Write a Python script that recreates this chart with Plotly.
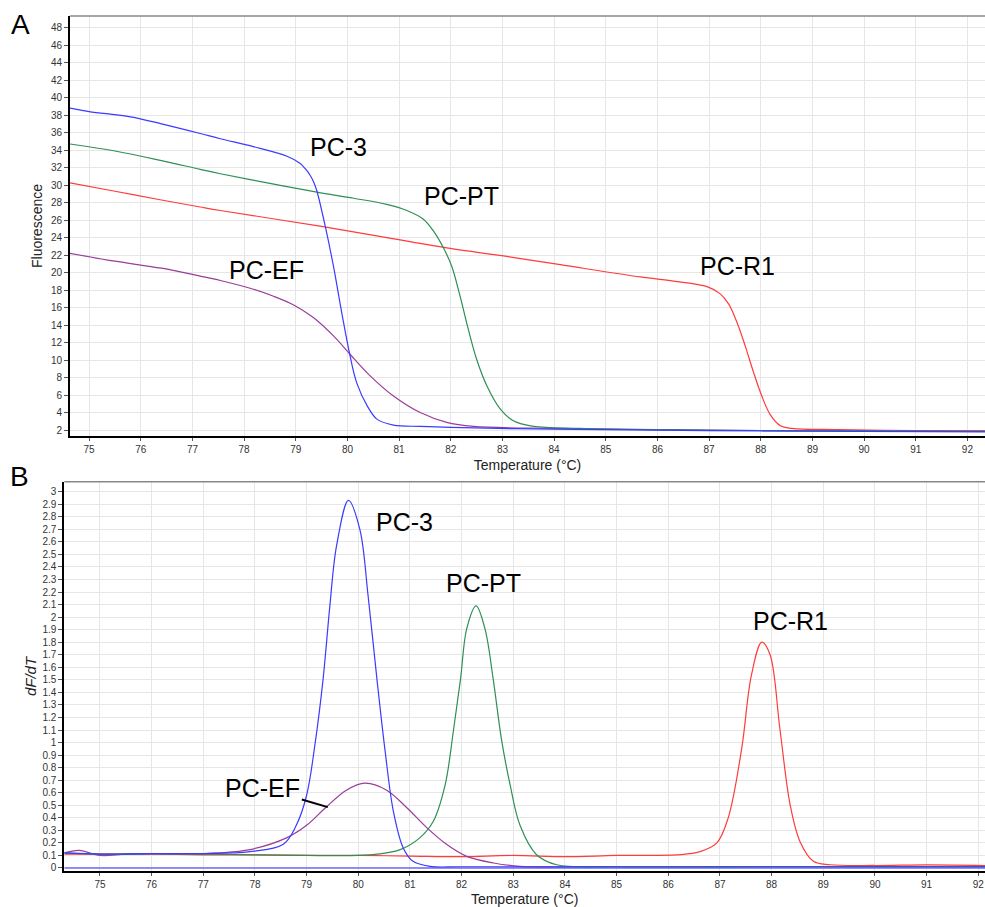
import plotly.graph_objects as go

# ---------------- Data ----------------
# Panel A: fluorescence melt curves
a_pc3_t = [74.63, 75.0, 75.8, 76.4, 77.15, 77.54, 78.18, 78.83, 79.08, 79.18, 79.28, 79.35, 79.41, 79.57, 79.73, 79.89,
           80.05, 80.18, 80.38, 80.57, 80.89, 81.41, 82.0, 84.0, 86.0, 88.0, 90.0, 92.34]
a_pc3_f = [38.8, 38.4, 37.8, 37.0, 35.9, 35.3, 34.4, 33.3, 32.5, 31.9, 31.1, 30.3, 29.3, 25.3, 20.7, 15.4,
           10.5, 7.4, 4.8, 3.25, 2.57, 2.42, 2.3, 2.1, 2.0, 1.9, 1.85, 1.8]

a_pt_t = [74.63, 75.5, 76.4, 77.15, 77.54, 78.5, 79.41, 80.12, 80.76, 81.15, 81.47, 81.67, 81.86, 82.02,
          82.18, 82.34, 82.5, 82.7, 82.96, 83.21, 83.6, 84.5, 86.0, 88.0, 90.0, 92.34]
a_pt_f = [34.7, 33.9, 32.8, 31.8, 31.3, 30.2, 29.2, 28.5, 27.8, 27.1, 26.1, 24.7, 22.8, 20.7,
          17.3, 13.5, 10.1, 7.05, 4.4, 3.06, 2.42, 2.2, 2.05, 1.95, 1.9, 1.85]

a_r1_t = [74.63, 75.5, 76.4, 77.15, 77.54, 79.47, 80.76, 81.99, 83.02, 84.12, 85.67, 86.31, 86.96, 87.21,
          87.38, 87.54, 87.7, 87.86, 88.02, 88.18, 88.38, 88.6, 89.5, 91.0, 92.34]
a_r1_f = [30.25, 29.3, 28.3, 27.5, 27.1, 25.3, 24.0, 22.76, 21.9, 20.9, 19.5, 19.03, 18.4, 17.6,
          16.4, 14.3, 11.6, 8.6, 5.9, 3.8, 2.5, 2.2, 2.05, 1.95, 1.9]

a_ef_t = [74.63, 75.5, 76.4, 77.15, 77.54, 78.18, 78.57, 78.96, 79.34, 79.73, 80.05, 80.44, 80.89, 81.41,
          81.92, 82.44, 84.0, 86.0, 88.0, 90.0, 92.34]
a_ef_f = [22.2, 21.3, 20.5, 19.6, 19.1, 18.1, 17.3, 16.3, 14.86, 12.76, 10.67, 8.2, 5.9, 4.0,
          2.88, 2.42, 2.2, 2.05, 1.95, 1.9, 1.85]

# Panel B: derivative melt peaks (dF/dT)
b_pc3_t = [74.31, 75.0, 76.0, 77.0, 77.9, 78.55, 78.8, 79.0, 79.16, 79.32, 79.45, 79.58, 79.81, 80.03,
           80.19, 80.36, 80.52, 80.68, 80.87, 81.06, 81.39, 82.0, 85.0, 88.0, 92.13]
b_pc3_v = [0.12, 0.11, 0.115, 0.115, 0.13, 0.19, 0.34, 0.58, 0.98, 1.51, 2.09, 2.57, 2.93, 2.70,
           2.17, 1.51, 0.93, 0.45, 0.16, 0.053, 0.013, 0.01, 0.01, 0.01, 0.01]

b_pt_t = [74.31, 75.0, 76.0, 77.0, 78.0, 79.0, 80.0, 80.36, 80.81, 81.19, 81.45, 81.68, 81.84, 81.98,
          82.1, 82.28, 82.45, 82.61, 82.77, 82.94, 83.13, 83.45, 83.84, 85.0, 88.0, 92.13]
b_pt_v = [0.12, 0.11, 0.115, 0.11, 0.105, 0.1, 0.1, 0.11, 0.146, 0.24, 0.37, 0.66, 1.09, 1.51,
          1.91, 2.09, 1.91, 1.51, 1.03, 0.66, 0.34, 0.106, 0.026, 0.01, 0.01, 0.01]

b_r1_t = [74.31, 75.0, 76.0, 77.0, 78.0, 79.0, 80.0, 81.0, 82.0, 83.0, 84.0, 85.0, 86.23, 86.61,
          86.94, 87.16, 87.42, 87.61, 87.81, 87.97, 88.16, 88.36, 88.55, 88.81, 89.13, 90.0, 91.0, 92.13]
b_r1_v = [0.11, 0.11, 0.11, 0.105, 0.105, 0.1, 0.1, 0.095, 0.09, 0.1, 0.09, 0.1, 0.106, 0.13,
          0.2, 0.4, 0.95, 1.54, 1.80, 1.70, 1.11, 0.5, 0.21, 0.053, 0.026, 0.02, 0.025, 0.02]

b_ef_t = [74.31, 74.6, 75.0, 75.5, 76.0, 77.0, 77.32, 77.9, 78.61, 79.0, 79.39, 79.77, 80.13, 80.55,
          80.94, 81.33, 81.72, 82.1, 82.62, 83.13, 84.0, 88.0, 92.13]
b_ef_v = [0.12, 0.14, 0.1, 0.11, 0.115, 0.115, 0.12, 0.146, 0.24, 0.34, 0.49, 0.62, 0.676, 0.62,
          0.48, 0.32, 0.185, 0.093, 0.04, 0.013, 0.01, 0.01, 0.01]

b_ntc_t = [74.31, 92.13]
b_ntc_v = [0.0, 0.0]

# ---------------- Styles ----------------
BLUE = "#3b3bff"
GREEN = "#2f8f55"
RED = "#ff3b3b"
PURPLE = "#993d99"
FONT = "Liberation Sans, Arial, sans-serif"

fig = go.Figure()

def add(t, v, color, name, xa, ya, width=1.2):
    fig.add_trace(go.Scatter(x=t, y=v, mode="lines", name=name,
                             line=dict(color=color, width=width, shape="spline", smoothing=1.0),
                             xaxis=xa, yaxis=ya, showlegend=False, hoverinfo="x+y+name"))

add(a_r1_t, a_r1_f, RED, "PC-R1", "x", "y")
add(a_ef_t, a_ef_f, PURPLE, "PC-EF", "x", "y")
add(a_pt_t, a_pt_f, GREEN, "PC-PT", "x", "y")
add(a_pc3_t, a_pc3_f, BLUE, "PC-3", "x", "y")

add(b_ntc_t, b_ntc_v, "#6a6aff", "NTC", "x2", "y2", width=1.6)
add(b_r1_t, b_r1_v, RED, "PC-R1", "x2", "y2")
add(b_ef_t, b_ef_v, PURPLE, "PC-EF", "x2", "y2")
add(b_pt_t, b_pt_v, GREEN, "PC-PT", "x2", "y2")
add(b_pc3_t, b_pc3_v, BLUE, "PC-3", "x2", "y2")

W, H = 985, 907
def px_x(p):
    return p / W
def px_y(p):
    return 1 - p / H

common_x = dict(showgrid=True, gridcolor="#e6e6e6", gridwidth=1, zeroline=False,
                showline=True, linecolor="black", linewidth=2,
                ticks="outside", ticklen=3, tickcolor="#555", dtick=1,
                tickfont=dict(size=10, color="#333", family=FONT),
                title=dict(text="Temperature (°C)", font=dict(size=14, color="#222", family=FONT),
                           standoff=6))
common_y = dict(showgrid=True, gridcolor="#e6e6e6", gridwidth=1, zeroline=False,
                showline=True, linecolor="black", linewidth=2,
                ticks="outside", ticklen=4, tickcolor="#555",
                tickfont=dict(size=10, color="#333", family=FONT))

fig.update_layout(
    width=W, height=H,
    margin=dict(l=0, r=0, t=0, b=0),
    paper_bgcolor="white", plot_bgcolor="white",
    font=dict(family=FONT, color="black"),
    xaxis=dict(common_x, domain=[px_x(70), 1.0], range=[74.63, 92.34], anchor="y"),
    yaxis=dict(common_y, domain=[px_y(437), px_y(16)], range=[1.32, 49.33], dtick=2, anchor="x",
               title=dict(text="Fluorescence", font=dict(size=14, color="#222", family=FONT), standoff=5)),
    xaxis2=dict(common_x, domain=[px_x(64.3), 1.0], range=[74.31, 92.13], anchor="y2"),
    yaxis2=dict(common_y, domain=[px_y(873.3), px_y(482.7)], range=[-0.027, 3.08], dtick=0.1, anchor="x2",
                title=dict(text="<i>dF/dT</i>", font=dict(size=15, color="#222", family=FONT), standoff=2)),
)

# thin grey top borders of both panels
fig.add_shape(type="line", xref="x domain", yref="y domain", x0=0, x1=1, y0=1, y1=1,
              line=dict(color="#888", width=1.5))
fig.add_shape(type="line", xref="x2 domain", yref="y2 domain", x0=0, x1=1, y0=1, y1=1,
              line=dict(color="#888", width=1.5))

lab = dict(size=25, color="black", family=FONT)

def label(text, cx, cy, size=None):
    f = lab if size is None else dict(size=size, color="black", family=FONT)
    return dict(text=text, x=px_x(cx), y=px_y(cy), xref="paper", yref="paper", showarrow=False,
                xanchor="center", yanchor="middle", font=f)

ann = [
    label("A", 20, 25, 28),
    label("B", 19, 478, 28),
    label("PC-3", 338, 147),
    label("PC-PT", 461, 196),
    label("PC-EF", 266, 271),
    label("PC-R1", 737, 267),
    label("PC-3", 404, 523),
    label("PC-PT", 483, 584),
    label("PC-R1", 790, 622),
    dict(text="PC-EF", x=79.41, y=0.485, xref="x2", yref="y2", showarrow=True,
         xanchor="center", yanchor="middle",
         arrowhead=0, arrowwidth=2, arrowcolor="black", ax=-65, ay=-19, font=lab),
]
fig.update_layout(annotations=ann)

fig.write_html("out.html", config={"displayModeBar": False},
               post_script="document.body.style.margin='0';document.body.style.overflow='hidden';")
